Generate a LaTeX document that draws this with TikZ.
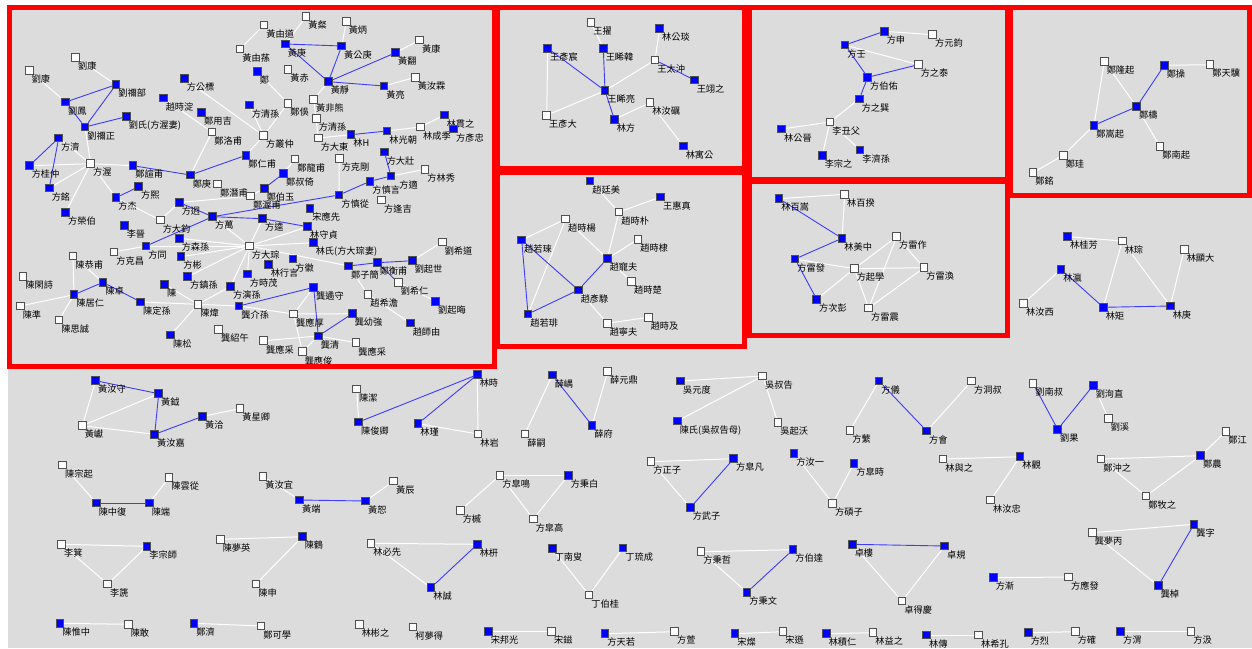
\documentclass[tikz,border=0pt]{standalone}
\usepackage{fontspec}
\usepackage{tikz}
\usetikzlibrary{backgrounds}
\newfontfamily\cjk{Noto Sans CJK TC}
\definecolor{panelgray}{RGB}{220,220,220}
\definecolor{nodeblue}{RGB}{0,0,255}
\definecolor{sqline}{RGB}{80,80,80}
\definecolor{edgeblue}{RGB}{60,60,250}
\definecolor{framered}{RGB}{255,0,0}
\tikzset{
  bsq/.style={rectangle,draw=sqline,fill=nodeblue,line width=1pt,minimum size=7.5pt,inner sep=0pt},
  wsq/.style={rectangle,draw=sqline,fill=white,line width=1pt,minimum size=7.5pt,inner sep=0pt},
  lbl/.style={font=\cjk\fontsize{9.2}{9.2}\selectfont,inner sep=0pt,xshift=-2pt},
  bline/.style={draw=edgeblue,line width=0.9pt},
  wline/.style={draw=white,line width=1pt},
  frame/.style={draw=framered,line width=5pt}
}

\begin{document}
\begin{tikzpicture}[x=1pt,y=-1pt]
  \useasboundingbox (0,0) rectangle (1252,648);
  \begin{scope}[on background layer]
    \fill[white] (0,0) rectangle (1252,648);
    \fill[panelgray] (8,5) rectangle (1252,648);
  \end{scope}

  % large family cluster (top left)
  \node[wsq,label={[lbl]south east:劉康}] (a1) at (75.7,57.3) {};
  \node[wsq,label={[lbl]south east:劉康}] (a2) at (29.3,70.7) {};
  \node[bsq,label={[lbl]south east:劉禰部}] (a3) at (116,84.7) {};
  \node[bsq,label={[lbl]south east:劉鳳}] (a4) at (65.7,102) {};
  \node[bsq,label={[lbl]south east:劉氏(方渥妻)}] (a5) at (126.3,116.7) {};
  \node[bsq,label={[lbl]south east:劉禰正}] (a6) at (85,127) {};
  \node[bsq,label={[lbl]south east:方濟}] (a7) at (58.7,138) {};
  \node[wsq,label={[lbl]south east:方渥}] (a8) at (90.7,163.7) {};
  \node[bsq,label={[lbl]south east:方桂仲}] (a9) at (29.3,165.7) {};
  \node[bsq,label={[lbl]south east:方銘}] (a10) at (49.3,188) {};
  \node[bsq,label={[lbl]south east:方榮伯}] (a11) at (65.7,212.3) {};
  \node[bsq,label={[lbl]south east:鄭諠甫}] (a12) at (133,165.7) {};
  \node[bsq,label={[lbl]south east:鄭庚}] (a13) at (190.3,175) {};
  \node[wsq,label={[lbl]south east:鄭潛甫}] (a14) at (217.7,184) {};
  \node[bsq,label={[lbl]south east:方公標}] (a15) at (184.3,78.7) {};
  \node[bsq,label={[lbl]south east:趙時淀}] (a16) at (163.3,98) {};
  \node[bsq,label={[lbl]south east:鄭用吉}] (a17) at (201.7,112.3) {};
  \node[wsq,label={[lbl]south east:鄭洛甫}] (a18) at (212,132) {};
  \node[bsq,label={[lbl]south east:鄭仁甫}] (a19) at (246,155.3) {};
  \node[wsq,label={[lbl]south east:黃由蓀}] (a20) at (240,49) {};
  \node[bsq,label={[lbl]south east:方清孫}] (a21) at (249.3,105) {};
  \node[wsq,label={[lbl]south east:黃粲}] (a22) at (306,16.7) {};
  \node[wsq,label={[lbl]south east:黃由道}] (a23) at (264,25) {};
  \node[wsq,label={[lbl]south east:黃炳}] (a24) at (346.3,21.7) {};
  \node[bsq,label={[lbl]south east:黃庚}] (a25) at (285.3,44) {};
  \node[bsq,label={[lbl]south east:黃公庚}] (a26) at (341.7,46) {};
  \node[wsq,label={[lbl]south east:黃康}] (a27) at (419.7,40) {};
  \node[bsq,label={[lbl]south east:黃翻}] (a28) at (395.7,52.7) {};
  \node[bsq,label={[lbl]south east:鄭}] (a29) at (257.3,71.7) {};
  \node[wsq,label={[lbl]south east:黃赤}] (a30) at (288,69.7) {};
  \node[bsq,label={[lbl]south east:黃靜}] (a31) at (328.3,81.7) {};
  \node[bsq,label={[lbl]south east:黃亮}] (a32) at (384,86) {};
  \node[wsq,label={[lbl]south east:黃汝霖}] (a33) at (415.3,77.3) {};
  \node[wsq,label={[lbl]south east:鄭俁}] (a34) at (288,103.3) {};
  \node[wsq,label={[lbl]south east:黃非熊}] (a35) at (313.7,99.3) {};
  \node[wsq,label={[lbl]south east:方清孫}] (a36) at (316.3,118.3) {};
  \node[bsq,label={[lbl]south east:林H}] (a37) at (351,134.7) {};
  \node[bsq,label={[lbl]south east:林光朝}] (a38) at (387,131) {};
  \node[wsq,label={[lbl]south east:林成季}] (a39) at (420.7,127) {};
  \node[bsq,label={[lbl]south east:林貫之}] (a40) at (444.3,115) {};
  \node[bsq,label={[lbl]south east:方彥忠}] (a41) at (453.7,129) {};
  \node[wsq,label={[lbl]south east:方叢仲}] (a42) at (263.7,135.7) {};
  \node[wsq,label={[lbl]south east:方大東}] (a43) at (318.3,138) {};
  \node[wsq,label={[lbl]south east:鄭龍甫}] (a44) at (295,159) {};
  \node[wsq,label={[lbl]south east:方克剛}] (a45) at (339.3,158.3) {};
  \node[bsq,label={[lbl]south east:方大壯}] (a46) at (384.3,152) {};
  \node[bsq,label={[lbl]south east:鄭叔倚}] (a47) at (283.7,173.3) {};
  \node[bsq,label={[lbl,xshift=6pt]south east:方適}] (a48) at (391,176) {};
  \node[wsq,label={[lbl]south east:方林秀}] (a49) at (425,169.3) {};
  \node[bsq,label={[lbl]south east:鄭伯玉}] (a50) at (264.3,188.3) {};
  \node[wsq,label={[lbl]south east:鄭渥甫}] (a51) at (250.7,196) {};
  \node[bsq,label={[lbl]south east:方慎從}] (a52) at (339,195) {};
  \node[bsq,label={[lbl]south east:方慎言}] (a53) at (370,181.3) {};
  \node[wsq,label={[lbl]south east:方逢吉}] (a54) at (381.7,200) {};
  \node[bsq,label={[lbl]south east:宋應先}] (a55) at (310,208.3) {};
  \node[bsq,label={[lbl]south east:林守貞}] (a56) at (307.7,226.7) {};
  \node[bsq,label={[lbl]south east:方逵}] (a57) at (262.7,218.7) {};
  \node[bsq,label={[lbl]south east:林氏(方大琮妻)}] (a58) at (313.3,242.7) {};
  \node[wsq,label={[lbl]south east:方大琮}] (a59) at (249.5,246) {};
  \node[bsq,label={[lbl]south east:林行言}] (a60) at (268.3,264.7) {};
  \node[bsq,label={[lbl]south east:方徽}] (a61) at (293,259) {};
  \node[bsq,label={[lbl]south east:方時茂}] (a62) at (247.5,274) {};
  \node[bsq,label={[lbl]south east:鄭子簡}] (a63) at (348.7,266) {};
  \node[bsq,label={[lbl]south east:鄭衡甫}] (a64) at (377.3,262.7) {};
  \node[bsq,label={[lbl]south east:劉起世}] (a65) at (412.3,260.7) {};
  \node[wsq,label={[lbl]south east:劉希道}] (a66) at (442.3,242) {};
  \node[wsq,label={[lbl]south east:劉希仁}] (a67) at (398.3,282.7) {};
  \node[wsq,label={[lbl]south east:趙希澹}] (a68) at (368,294.7) {};
  \node[bsq,label={[lbl]south east:劉起晦}] (a69) at (435.7,301.3) {};
  \node[bsq,label={[lbl]south east:趙師由}] (a70) at (410.3,323) {};
  \node[bsq,label={[lbl]south east:龔遹守}] (a71) at (313.7,287.3) {};
  \node[wsq,label={[lbl]south east:龔應厚}] (a72) at (293.7,314) {};
  \node[bsq,label={[lbl]south east:龔介孫}] (a73) at (239,306) {};
  \node[wsq,label={[lbl]south east:龔紹午}] (a74) at (218.7,329.7) {};
  \node[bsq,label={[lbl]south east:龔幼強}] (a75) at (352.3,313.7) {};
  \node[bsq,label={[lbl]south east:龔清}] (a76) at (318.3,336) {};
  \node[wsq,label={[lbl]south east:龔應采}] (a77) at (263.7,340.7) {};
  \node[wsq,label={[lbl]south east:龔應俊}] (a78) at (302.3,351.7) {};
  \node[wsq,label={[lbl]south east:龔應采}] (a79) at (356,342.7) {};
  \node[bsq,label={[lbl]south east:方熙}] (a80) at (138.7,186.7) {};
  \node[bsq,label={[lbl]south east:方杰}] (a81) at (116,197.7) {};
  \node[bsq,label={[lbl]south east:方迥}] (a82) at (179.3,202.5) {};
  \node[wsq,label={[lbl]south east:方大鈞}] (a83) at (160.3,220) {};
  \node[bsq,label={[lbl]south east:方萬}] (a84) at (212.7,216.7) {};
  \node[bsq,label={[lbl]south east:李晉}] (a85) at (124.3,225.7) {};
  \node[bsq,label={[lbl]south east:方同}] (a86) at (146,246) {};
  \node[bsq,label={[lbl]south east:方森孫}] (a87) at (179.3,238.3) {};
  \node[wsq,label={[lbl]south east:方克昌}] (a88) at (114,252) {};
  \node[bsq,label={[lbl]south east:方彬}] (a89) at (181,256.7) {};
  \node[wsq,label={[lbl]south east:陳恭甫}] (a90) at (73,256) {};
  \node[wsq,label={[lbl]south east:陳閑詩}] (a91) at (23,276.7) {};
  \node[bsq,label={[lbl]south east:陳卓}] (a92) at (103,282.3) {};
  \node[bsq,label={[lbl]south east:陳居仁}] (a93) at (74,294.7) {};
  \node[bsq,label={[lbl]south east:陳定孫}] (a94) at (140.7,302) {};
  \node[wsq,label={[lbl]south east:陳準}] (a95) at (20.3,306) {};
  \node[wsq,label={[lbl]south east:陳思誠}] (a96) at (59,320) {};
  \node[bsq,label={[lbl]south east:方鎮孫}] (a97) at (187.7,276.7) {};
  \node[bsq,label={[lbl]south east:陳}] (a98) at (164.7,284.3) {};
  \node[wsq,label={[lbl]south east:陳煒}] (a99) at (198,304.3) {};
  \node[bsq,label={[lbl]south east:陳松}] (a100) at (170.7,335) {};
  \node[bsq,label={[lbl]south east:方演孫}] (a101) at (230.7,286.3) {};

  % Wang / Lin box
  \node[wsq,label={[lbl]south east:王擢}] (w1) at (591,22.7) {};
  \node[bsq,label={[lbl]south east:王睎韓}] (w2) at (603.3,48.3) {};
  \node[bsq,label={[lbl]south east:林公琰}] (w3) at (659.7,28.7) {};
  \node[bsq,label={[lbl]south east:王彥宸}] (w4) at (547.7,48.3) {};
  \node[wsq,label={[lbl]south east:王太沖}] (w5) at (655,60) {};
  \node[bsq,label={[lbl]south east:王翊之}] (w6) at (694.3,80) {};
  \node[bsq,label={[lbl]south east:王睎亮}] (w7) at (605,90.7) {};
  \node[wsq,label={[lbl]south east:林汝礪}] (w8) at (650,102.7) {};
  \node[wsq,label={[lbl]south east:王彥大}] (w9) at (546.7,115.3) {};
  \node[bsq,label={[lbl]south east:林方}] (w10) at (614.3,119.3) {};
  \node[bsq,label={[lbl]south east:林寓公}] (w11) at (683.3,146) {};

  % Zhao box
  \node[bsq,label={[lbl]south east:趙廷美}] (z1) at (590,181) {};
  \node[bsq,label={[lbl]south east:王惠真}] (z2) at (660.7,197) {};
  \node[wsq,label={[lbl]south east:趙時朴}] (z3) at (619,212) {};
  \node[wsq,label={[lbl]south east:趙時楊}] (z4) at (565.7,219) {};
  \node[bsq,label={[lbl]south east:趙若琜}] (z5) at (521.7,240) {};
  \node[wsq,label={[lbl]south east:趙時棣}] (z6) at (638,239.3) {};
  \node[bsq,label={[lbl]south east:趙寵夫}] (z7) at (607.3,258.7) {};
  \node[wsq,label={[lbl]south east:趙時楚}] (z8) at (631.7,281.7) {};
  \node[bsq,label={[lbl]south east:趙彥騄}] (z9) at (578.3,290) {};
  \node[bsq,label={[lbl]south east:趙若琲}] (z10) at (528,314) {};
  \node[wsq,label={[lbl]south east:趙時及}] (z11) at (648.3,317.3) {};
  \node[wsq,label={[lbl]south east:趙寧夫}] (z12) at (607.3,323.3) {};

  % Fang / Li box
  \node[bsq,label={[lbl]south east:方申}] (f1) at (884.3,31.3) {};
  \node[wsq,label={[lbl]south east:方元鈞}] (f2) at (932.7,34.7) {};
  \node[bsq,label={[lbl]south east:方壬}] (f3) at (845,45) {};
  \node[wsq,label={[lbl]south east:方之泰}] (f4) at (918.3,64.7) {};
  \node[bsq,label={[lbl]south east:方伯佑}] (f5) at (867.7,77.3) {};
  \node[bsq,label={[lbl]south east:方之巽}] (f6) at (859.3,99) {};
  \node[wsq,label={[lbl]south east:李丑父}] (f7) at (830,122) {};
  \node[bsq,label={[lbl]south east:林公晉}] (f8) at (781.7,129) {};
  \node[bsq,label={[lbl]south east:李宗之}] (f9) at (822.3,155.3) {};
  \node[bsq,label={[lbl]south east:李濟孫}] (f10) at (860,150) {};

  % Zheng box
  \node[wsq,label={[lbl]south east:鄭隆起}] (d1) at (1104.3,61.3) {};
  \node[bsq,label={[lbl]south east:鄭操}] (d2) at (1164.3,65.3) {};
  \node[wsq,label={[lbl]south east:鄭天驥}] (d3) at (1210,64.7) {};
  \node[bsq,label={[lbl]south east:鄭檮}] (d4) at (1136.7,106.7) {};
  \node[bsq,label={[lbl]south east:鄭嵩起}] (d5) at (1094,125.3) {};
  \node[wsq,label={[lbl]south east:鄭南起}] (d6) at (1160,146.7) {};
  \node[wsq,label={[lbl]south east:鄭珪}] (d7) at (1063.3,155.3) {};
  \node[wsq,label={[lbl]south east:鄭銘}] (d8) at (1033,172.7) {};

  % Lin / Fang box
  \node[bsq,label={[lbl]south east:林百嵩}] (c1) at (779,198.7) {};
  \node[wsq,label={[lbl]south east:林百揆}] (c2) at (844.7,194.3) {};
  \node[bsq,label={[lbl]south east:林美中}] (c3) at (842,238.3) {};
  \node[wsq,label={[lbl]south east:方雷作}] (c4) at (896.7,236.7) {};
  \node[bsq,label={[lbl]south east:方雷發}] (c5) at (795,259) {};
  \node[wsq,label={[lbl]south east:方起學}] (c6) at (854.3,268.7) {};
  \node[wsq,label={[lbl]south east:方雷渙}] (c7) at (924,267.7) {};
  \node[bsq,label={[lbl]south east:方次彭}] (c8) at (816.7,299.3) {};
  \node[wsq,label={[lbl]south east:方雷震}] (c9) at (868.7,308) {};

  % Lin cluster (right)
  \node[bsq,label={[lbl]south east:林桂芳}] (r1) at (1067.7,236.7) {};
  \node[wsq,label={[lbl]south east:林琮}] (r2) at (1122.3,241) {};
  \node[wsq,label={[lbl]south east:林顯大}] (r3) at (1184.3,249.3) {};
  \node[bsq,label={[lbl]south east:林瀛}] (r4) at (1061,269.3) {};
  \node[wsq,label={[lbl]south east:林汝西}] (r5) at (1023.7,303.3) {};
  \node[bsq,label={[lbl]south east:林矩}] (r6) at (1103.3,307.3) {};
  \node[bsq,label={[lbl]south east:林庚}] (r7) at (1170.3,306) {};

  % small clusters (bottom)
  \node[bsq,label={[lbl]south east:黃汝守}] (s1) at (95.7,380.7) {};
  \node[bsq,label={[lbl]south east:黃鉞}] (s2) at (158.7,393.7) {};
  \node[wsq,label={[lbl]south east:黃星卿}] (s3) at (240,408.7) {};
  \node[bsq,label={[lbl]south east:黃洽}] (s4) at (202.7,416.3) {};
  \node[wsq,label={[lbl]south east:黃巘}] (s5) at (82.3,425.7) {};
  \node[bsq,label={[lbl]south east:黃汝嘉}] (s6) at (154.7,434.3) {};
  \node[wsq,label={[lbl]south east:陳宗起}] (s7) at (62.7,465) {};
  \node[bsq,label={[lbl]south east:陳中復}] (s8) at (96.3,503) {};
  \node[bsq,label={[lbl]south east:陳端}] (s9) at (149.3,503) {};
  \node[wsq,label={[lbl]south east:陳雲從}] (s10) at (169,477.7) {};
  \node[wsq,label={[lbl]south east:黃汝宜}] (s11) at (263,476.3) {};
  \node[bsq,label={[lbl]south east:黃端}] (s12) at (299.7,500) {};
  \node[bsq,label={[lbl]south east:黃恕}] (s13) at (365.7,501) {};
  \node[wsq,label={[lbl]south east:黃辰}] (s14) at (393.7,481) {};
  \node[wsq,label={[lbl]south east:李箕}] (s15) at (61.7,544.3) {};
  \node[bsq,label={[lbl]south east:李宗師}] (s16) at (147,546.3) {};
  \node[wsq,label={[lbl]south east:李篪}] (s17) at (107.7,584) {};
  \node[wsq,label={[lbl]south east:陳夢英}] (s18) at (220.3,539.3) {};
  \node[bsq,label={[lbl]south east:陳鶴}] (s19) at (302.3,536.7) {};
  \node[wsq,label={[lbl]south east:陳申}] (s20) at (256,584) {};
  \node[bsq,label={[lbl]south east:陳惟中}] (s21) at (60,623.3) {};
  \node[wsq,label={[lbl]south east:陳敢}] (s22) at (128.3,624.3) {};
  \node[bsq,label={[lbl]south east:鄭濟}] (s23) at (194,623.3) {};
  \node[wsq,label={[lbl]south east:鄭可學}] (s24) at (261,626) {};
  \node[wsq,label={[lbl]south east:陳潔}] (s25) at (356.7,389) {};
  \node[bsq,label={[lbl]south east:陳俊卿}] (s26) at (358.7,422) {};
  \node[bsq,label={[lbl]south east:林時}] (s27) at (477.3,374.7) {};
  \node[bsq,label={[lbl]south east:林瑾}] (s28) at (418,423.7) {};
  \node[wsq,label={[lbl]south east:林岩}] (s29) at (478,434) {};
  \node[wsq,label={[lbl]south east:林必先}] (s30) at (371,543.3) {};
  \node[bsq,label={[lbl]south east:林枅}] (s31) at (477.3,544.3) {};
  \node[bsq,label={[lbl]south east:林誠}] (s32) at (431,587.7) {};
  \node[wsq,label={[lbl]south east:林彬之}] (s33) at (359.3,624.3) {};
  \node[wsq,label={[lbl]south east:柯夢得}] (s34) at (413,627) {};
  \node[bsq,label={[lbl]south east:薛嵎}] (s35) at (552.3,375) {};
  \node[wsq,label={[lbl]south east:薛元鼎}] (s36) at (607.7,371.7) {};
  \node[bsq,label={[lbl]south east:薛府}] (s37) at (592,425.3) {};
  \node[wsq,label={[lbl]south east:薛嗣}] (s38) at (525,434) {};
  \node[bsq,label={[lbl]south east:吳元度}] (s39) at (680.7,381) {};
  \node[wsq,label={[lbl]south east:吳叔告}] (s40) at (762.7,376) {};
  \node[bsq,label={[lbl]south east:陳氏(吳叔告母)}] (s41) at (677.3,421) {};
  \node[wsq,label={[lbl]south east:吳起沃}] (s42) at (778,422.7) {};
  \node[wsq,label={[lbl]south east:方皐鳴}] (s43) at (500,475.3) {};
  \node[bsq,label={[lbl]south east:方秉白}] (s44) at (568.3,475.3) {};
  \node[wsq,label={[lbl]south east:方槭}] (s45) at (460.3,510.5) {};
  \node[wsq,label={[lbl]south east:方皐高}] (s46) at (533.3,519) {};
  \node[wsq,label={[lbl]south east:方正子}] (s47) at (651,461.7) {};
  \node[bsq,label={[lbl]south east:方皐凡}] (s48) at (733.7,458.7) {};
  \node[bsq,label={[lbl]south east:方武子}] (s49) at (690.3,507.7) {};
  \node[bsq,label={[lbl]south east:方汝一}] (s50) at (794,453.7) {};
  \node[wsq,label={[lbl]south east:方碩子}] (s51) at (832.7,503.3) {};
  \node[bsq,label={[lbl]south east:方皐時}] (s52) at (854,463.3) {};
  \node[bsq,label={[lbl]south east:丁南叟}] (s53) at (552.3,548.7) {};
  \node[bsq,label={[lbl]south east:丁琉成}] (s54) at (623,548) {};
  \node[wsq,label={[lbl]south east:丁伯桂}] (s55) at (589,595) {};
  \node[wsq,label={[lbl]south east:方秉哲}] (s56) at (701,551.7) {};
  \node[bsq,label={[lbl]south east:方伯達}] (s57) at (793,549.7) {};
  \node[bsq,label={[lbl]south east:方秉文}] (s58) at (747,592.3) {};
  \node[bsq,label={[lbl]south east:宋邦光}] (s59) at (488.3,631.7) {};
  \node[wsq,label={[lbl]south east:宋鎡}] (s60) at (551.7,631.7) {};
  \node[bsq,label={[lbl]south east:方天若}] (s61) at (605,633.7) {};
  \node[wsq,label={[lbl]south east:方萱}] (s62) at (674.7,631.7) {};
  \node[bsq,label={[lbl]south east:宋燦}] (s63) at (735,633.7) {};
  \node[wsq,label={[lbl]south east:宋遜}] (s64) at (783,631.7) {};
  \node[bsq,label={[lbl]south east:林積仁}] (s65) at (826.3,633.7) {};
  \node[wsq,label={[lbl]south east:林益之}] (s66) at (873,632.7) {};
  \node[bsq,label={[lbl]south east:林傳}] (s67) at (926.7,635) {};
  \node[wsq,label={[lbl]south east:林希孔}] (s68) at (978.7,635) {};
  \node[bsq,label={[lbl]south east:方烈}] (s69) at (1028.3,632.7) {};
  \node[wsq,label={[lbl]south east:方確}] (s70) at (1075.3,631.7) {};
  \node[bsq,label={[lbl]south east:方渭}] (s71) at (1120.7,631.7) {};
  \node[wsq,label={[lbl]south east:方汲}] (s72) at (1191,631.7) {};
  \node[bsq,label={[lbl]south east:方儀}] (s73) at (879,381) {};
  \node[wsq,label={[lbl]south east:方洞叔}] (s74) at (971.7,381) {};
  \node[wsq,label={[lbl]south east:方蘩}] (s75) at (850,430.3) {};
  \node[bsq,label={[lbl]south east:方會}] (s76) at (926.7,431) {};
  \node[wsq,label={[lbl]south east:劉南叔}] (s77) at (1033,383.3) {};
  \node[bsq,label={[lbl]south east:劉洵直}] (s78) at (1093.3,385.3) {};
  \node[bsq,label={[lbl]south east:劉果}] (s79) at (1057.7,429.3) {};
  \node[wsq,label={[lbl]south east:劉溪}] (s80) at (1108.3,418.3) {};
  \node[wsq,label={[lbl]south east:林與之}] (s81) at (943,459) {};
  \node[bsq,label={[lbl]south east:林觀}] (s82) at (1020,456.7) {};
  \node[wsq,label={[lbl]south east:林汝忠}] (s83) at (990.7,500) {};
  \node[wsq,label={[lbl]south east:鄭江}] (s84) at (1226,431.3) {};
  \node[wsq,label={[lbl]south east:鄭沖之}] (s85) at (1101,459) {};
  \node[bsq,label={[lbl]south east:鄭農}] (s86) at (1200.7,455.7) {};
  \node[wsq,label={[lbl]south east:鄭牧之}] (s87) at (1146,496) {};
  \node[bsq,label={[lbl]south east:卓樓}] (s88) at (852.3,544.3) {};
  \node[bsq,label={[lbl]south east:卓規}] (s89) at (944.7,546) {};
  \node[wsq,label={[lbl]south east:卓得慶}] (s90) at (902,601) {};
  \node[bsq,label={[lbl]south east:方漸}] (s91) at (993.3,577.7) {};
  \node[wsq,label={[lbl]south east:方應發}] (s92) at (1068.7,577) {};
  \node[wsq,label={[lbl]south east:龔夢丙}] (s93) at (1092.3,532.7) {};
  \node[bsq,label={[lbl]south east:龔字}] (s94) at (1194,524.3) {};
  \node[bsq,label={[lbl]south east:龔棹}] (s95) at (1158.3,585.7) {};

  \begin{scope}[on background layer]
    % white links
    \foreach \p/\q in {a1/a3,a2/a4,a6/a8,a7/a8,a9/a8,a8/a12,a8/a10,a8/a11,a8/a81,a18/a13,a16/a18,
      a15/a42,a23/a20,a22/a25,a26/a24,a28/a27,a32/a33,a31/a35,a29/a34,a34/a42,a21/a42,a35/a43,
      a43/a37,a38/a39,a39/a40,a48/a49,a45/a52,a42/a19,a47/a44,a81/a83,a83/a82,a88/a86,a86/a59,
      a87/a59,a84/a59,a59/a57,a59/a56,a59/a58,a59/a63,a59/a97,a59/a89,a59/a62,a59/a60,a59/a101,
      a63/a68,a68/a70,a65/a66,a67/a69,a90/a93,a90/a92,a95/a93,a96/a93,a94/a99,a98/a99,a99/a100,
      a99/a73,a99/a101,a71/a72,a72/a75,a72/a73,a72/a78,a76/a77,a76/a79,a76/a78,a82/a51,a51/a50,
      w1/w2,w4/w9,w9/w7,w7/w5,w5/w3,w10/w8,w8/w11,
      z1/z3,z3/z2,z3/z7,z4/z5,z4/z10,z4/z7,z7/z6,z7/z8,z9/z12,z12/z11,
      f1/f2,f3/f4,f6/f7,f7/f8,f7/f9,f7/f10,
      d2/d3,d1/d4,d1/d5,d4/d6,d5/d7,d7/d8,
      c1/c2,c2/c3,c5/c6,c6/c4,c6/c7,c6/c8,c6/c9,c4/c7,c4/c9,c7/c9,
      r1/r2,r2/r6,r2/r7,r3/r7,r4/r5,
      s1/s5,s5/s2,s5/s6,s4/s3,s7/s8,s9/s10,s11/s12,s13/s14,s15/s16,s15/s17,s16/s17,s18/s19,
      s19/s20,s21/s22,s23/s24,s25/s26,s27/s29,s28/s29,s30/s31,s30/s32,s36/s37,s38/s35,s39/s40,
      s41/s40,s40/s42,s43/s44,s43/s45,s43/s46,s44/s46,s47/s48,s47/s49,s50/s51,s52/s51,s53/s55,
      s54/s55,s56/s57,s56/s58,s59/s60,s61/s62,s63/s64,s65/s66,s67/s68,s69/s70,s71/s72,s73/s75,
      s76/s74,s78/s80,s81/s82,s82/s83,s85/s86,s85/s87,s87/s86,s86/s84,s88/s90,s89/s90,s91/s92,
      s93/s94,s93/s95}
      \draw[wline] (\p) -- (\q);
    % blue links
    \foreach \p/\q in {a4/a3,a4/a6,a3/a6,a6/a5,a7/a9,a7/a10,a12/a13,a13/a19,a25/a26,a25/a31,
      a26/a31,a31/a28,a31/a32,a37/a38,a46/a48,a48/a53,a52/a53,a52/a84,a47/a50,a82/a84,a86/a84,
      a84/a57,a57/a56,a81/a80,a63/a64,a64/a65,a64/a67,a71/a76,a71/a73,a76/a75,a92/a93,a92/a94,
      w2/w7,w4/w7,w5/w6,w7/w10,
      z5/z10,z5/z9,z10/z9,z9/z7,
      f3/f1,f3/f5,f5/f4,f5/f6,
      d2/d4,d5/d4,
      c1/c3,c3/c5,c5/c8,
      r4/r6,r6/r7,
      s1/s2,s2/s6,s6/s4,s8/s9,s12/s13,s26/s27,s28/s27,s32/s31,s35/s37,s49/s48,s58/s57,s73/s76,
      s77/s79,s79/s78,s88/s89,s95/s94}
      \draw[bline] (\p) -- (\q);
  \end{scope}

  % red frames
  \draw[frame] (9.5,7.5) rectangle (494,366);
  \draw[frame] (497.5,7.5) rectangle (744,168.5);
  \draw[frame] (497.5,172) rectangle (744,346);
  \draw[frame] (749,7.5) rectangle (1007,179.5);
  \draw[frame] (749,181) rectangle (1007,335.5);
  \draw[frame] (1010.5,7.5) rectangle (1249.5,195);
\end{tikzpicture}
\end{document}
